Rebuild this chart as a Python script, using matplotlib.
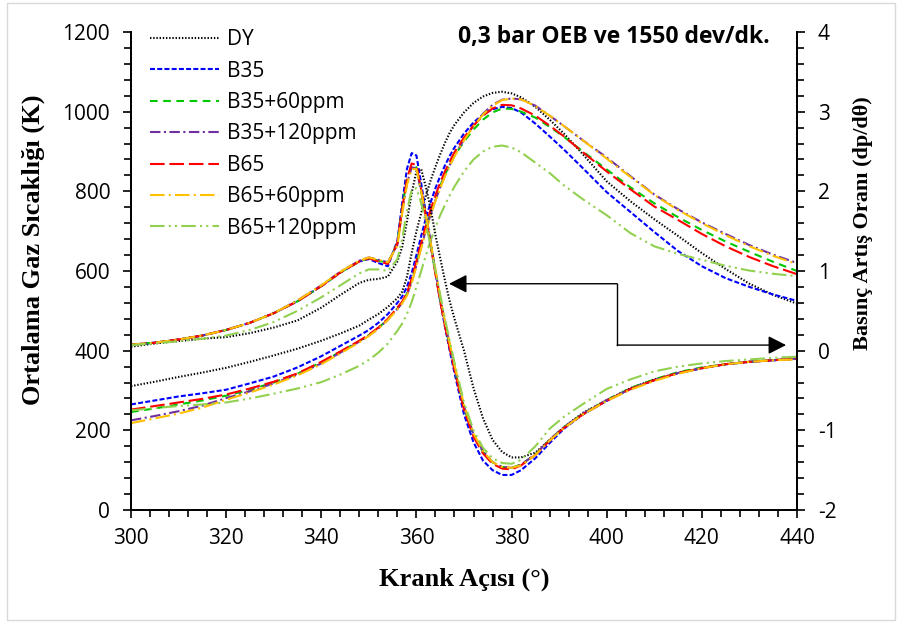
import matplotlib
matplotlib.use("Agg")
import matplotlib.pyplot as plt
from matplotlib.patches import Rectangle
from matplotlib.ticker import MultipleLocator

plt.rcParams["axes.unicode_minus"] = False
plt.rcParams["lines.scale_dashes"] = False

# Crank angle grid (degrees)
angle = [300, 305, 310, 315, 320, 325, 330, 335, 340, 344, 348, 350, 352, 354,
         356, 357, 358, 359, 360, 361, 362, 363, 364, 365, 366, 367, 368, 370,
         372, 374, 376, 378, 380, 382, 385, 388, 391, 395, 400, 405, 410, 415,
         420, 425, 430, 435, 440]

fuels = ["DY", "B35", "B35+60ppm", "B35+120ppm", "B65", "B65+60ppm", "B65+120ppm"]

# Mean gas temperature (K)
temp_dy = [311, 322, 334, 345, 357, 372, 388, 405, 425, 443, 463, 478, 492, 510,
           532, 548, 585, 645, 700, 745, 790, 828, 862, 893, 922, 947, 967, 998,
           1022, 1038, 1047, 1050, 1046, 1036, 1012, 980, 945, 893, 825, 775, 730,
           688, 645, 605, 568, 540, 518]
temp_b35 = [265, 275, 285, 293, 302, 318, 335, 358, 386, 412, 438, 452, 470, 492,
            520, 536, 560, 595, 640, 688, 733, 773, 808, 838, 865, 889, 910, 945,
            973, 993, 1006, 1012, 1009, 998, 970, 938, 905, 858, 798, 748, 698,
            650, 612, 582, 560, 541, 525]
temp_b35_60 = [246, 255, 265, 275, 287, 302, 320, 342, 371, 397, 424, 439, 457, 479,
               506, 521, 543, 577, 620, 665, 708, 748, 782, 814, 842, 867, 889, 925,
               955, 980, 998, 1008, 1007, 1000, 985, 962, 937, 900, 855, 810, 770,
               735, 703, 674, 648, 623, 600]
temp_b35_120 = [225, 236, 248, 262, 281, 298, 318, 340, 368, 395, 423, 438, 456, 478,
                505, 520, 540, 572, 615, 660, 703, 743, 778, 810, 840, 866, 890, 930,
                965, 995, 1017, 1030, 1033, 1031, 1015, 990, 964, 928, 885, 838, 792,
                755, 722, 693, 665, 641, 620]
temp_b65 = [252, 261, 270, 279, 290, 305, 322, 343, 372, 398, 425, 440, 458, 480,
            508, 523, 545, 580, 625, 670, 715, 755, 790, 822, 850, 875, 898, 935,
            965, 990, 1008, 1017, 1016, 1008, 990, 965, 938, 898, 850, 805, 762,
            728, 693, 662, 635, 612, 592]
temp_b65_60 = [218, 230, 242, 257, 277, 295, 315, 338, 366, 393, 421, 437, 455, 477,
               504, 519, 538, 570, 612, 657, 700, 740, 776, 808, 838, 864, 888, 928,
               963, 993, 1015, 1029, 1033, 1031, 1014, 990, 964, 928, 882, 836, 791,
               753, 720, 690, 662, 638, 617]
temp_b65_120 = [250, 256, 261, 265, 270, 280, 292, 305, 321, 340, 362, 377, 395, 418,
                450, 468, 492, 522, 560, 600, 640, 677, 710, 740, 766, 790, 812, 850,
                880, 900, 912, 915, 910, 898, 872, 846, 815, 780, 740, 695, 662,
                643, 628, 613, 601, 593, 587]

# Pressure rise rate (dp/dθ)
dp_dy = [0.05, 0.09, 0.12, 0.15, 0.17, 0.22, 0.29, 0.38, 0.54, 0.70, 0.85, 0.89, 0.90,
         0.93, 1.12, 1.30, 1.62, 1.98, 2.25, 2.28, 2.05, 1.78, 1.45, 1.16, 0.88, 0.62,
         0.40, 0.00, -0.47, -0.85, -1.12, -1.27, -1.34, -1.34, -1.28, -1.12, -0.96,
         -0.78, -0.62, -0.47, -0.36, -0.28, -0.22, -0.17, -0.14, -0.12, -0.10]
dp_b35 = [0.075, 0.10, 0.14, 0.19, 0.26, 0.35, 0.47, 0.62, 0.81, 0.98, 1.12, 1.15, 1.10,
          1.06, 1.38, 1.85, 2.28, 2.48, 2.45, 2.10, 1.72, 1.35, 0.98, 0.62, 0.30, 0.00,
          -0.28, -0.80, -1.15, -1.38, -1.50, -1.56, -1.56, -1.50, -1.35, -1.16, -0.98,
          -0.80, -0.63, -0.48, -0.37, -0.28, -0.22, -0.17, -0.14, -0.12, -0.10]
dp_b35_60 = [0.075, 0.10, 0.14, 0.19, 0.26, 0.35, 0.47, 0.62, 0.81, 0.98, 1.12, 1.16, 1.13,
             1.10, 1.35, 1.80, 2.15, 2.33, 2.30, 2.00, 1.68, 1.33, 0.98, 0.64, 0.33, 0.05,
             -0.22, -0.72, -1.06, -1.27, -1.40, -1.46, -1.47, -1.43, -1.30, -1.12, -0.96,
             -0.79, -0.62, -0.47, -0.36, -0.27, -0.21, -0.17, -0.14, -0.12, -0.10]
dp_b35_120 = [0.075, 0.10, 0.14, 0.19, 0.26, 0.35, 0.47, 0.63, 0.82, 0.99, 1.13, 1.17, 1.14,
              1.11, 1.33, 1.75, 2.10, 2.30, 2.29, 2.00, 1.68, 1.34, 1.00, 0.66, 0.35, 0.07,
              -0.20, -0.70, -1.05, -1.26, -1.40, -1.46, -1.47, -1.43, -1.30, -1.12, -0.96,
              -0.79, -0.62, -0.48, -0.37, -0.28, -0.22, -0.17, -0.14, -0.12, -0.10]
dp_b65 = [0.075, 0.10, 0.14, 0.19, 0.26, 0.35, 0.47, 0.62, 0.81, 0.98, 1.12, 1.16, 1.12,
          1.09, 1.35, 1.78, 2.15, 2.35, 2.33, 2.02, 1.68, 1.32, 0.96, 0.62, 0.31, 0.03,
          -0.24, -0.74, -1.08, -1.29, -1.42, -1.48, -1.49, -1.44, -1.31, -1.13, -0.97,
          -0.80, -0.63, -0.48, -0.37, -0.28, -0.22, -0.17, -0.14, -0.12, -0.10]
dp_b65_60 = [0.075, 0.10, 0.14, 0.19, 0.26, 0.35, 0.47, 0.63, 0.82, 0.99, 1.13, 1.17, 1.14,
             1.11, 1.32, 1.72, 2.08, 2.28, 2.28, 2.00, 1.69, 1.36, 1.02, 0.68, 0.37, 0.09,
             -0.18, -0.68, -1.04, -1.26, -1.40, -1.46, -1.47, -1.44, -1.31, -1.13, -0.97,
             -0.80, -0.63, -0.49, -0.38, -0.29, -0.22, -0.17, -0.14, -0.12, -0.11]
dp_b65_120 = [0.07, 0.09, 0.12, 0.15, 0.19, 0.26, 0.36, 0.50, 0.67, 0.82, 0.97, 1.02, 1.02,
              1.00, 1.15, 1.40, 1.75, 2.02, 2.04, 1.85, 1.60, 1.30, 1.00, 0.70, 0.40, 0.12,
              -0.15, -0.65, -1.00, -1.22, -1.35, -1.41, -1.42, -1.37, -1.20, -0.98, -0.83,
              -0.67, -0.48, -0.36, -0.26, -0.20, -0.16, -0.13, -0.11, -0.09, -0.075]

temps = [temp_dy, temp_b35, temp_b35_60, temp_b35_120, temp_b65, temp_b65_60, temp_b65_120]
rates = [dp_dy, dp_b35, dp_b35_60, dp_b35_120, dp_b65, dp_b65_60, dp_b65_120]

colors = ["black", "#0000ff", "#00c800", "#7030a0", "#ff0000", "#ffc000", "#92d050"]
dashes = [
    (0, (1.0, 1.3)),
    (0, (3.6, 1.6)),
    (0, (5.5, 4.0)),
    (0, (7.5, 2.5, 1.5, 2.5)),
    (0, (10.5, 3.5)),
    (0, (10.5, 3.0, 1.5, 3.0)),
    (0, (10.5, 3.0, 1.5, 3.0, 1.5, 3.0)),
]

SANS = "Open Sans"
SERIF = "Liberation Serif"


def main():
    fig = plt.figure(figsize=(9.03, 6.26), dpi=100)
    fig.patches.append(Rectangle((7 / 903, 6 / 626), 888 / 903, 617 / 626,
                                 transform=fig.transFigure, fill=False,
                                 edgecolor="#d9d9d9", linewidth=1.0))

    ax = fig.add_axes([131 / 903, 116 / 626, 666 / 903, 478 / 626])
    ax2 = ax.twinx()

    for i in range(len(fuels)):
        ax.plot(angle, temps[i], color=colors[i], linestyle=dashes[i], lw=1.5,
                label=fuels[i])
        ax2.plot(angle, rates[i], color=colors[i], linestyle=dashes[i], lw=1.5)

    ax.set_xlim(300, 440)
    ax.set_ylim(0, 1200)
    ax2.set_ylim(-2, 4)
    ax.xaxis.set_major_locator(MultipleLocator(20))
    ax.xaxis.set_minor_locator(MultipleLocator(4))
    ax.yaxis.set_major_locator(MultipleLocator(200))
    ax.yaxis.set_minor_locator(MultipleLocator(40))
    ax2.yaxis.set_major_locator(MultipleLocator(1))
    ax2.yaxis.set_minor_locator(MultipleLocator(0.2))

    for a in (ax, ax2):
        a.spines["top"].set_visible(False)
        for s in a.spines.values():
            s.set_linewidth(1.3)
        a.tick_params(which="both", direction="out", width=1.2, colors="black")
        a.tick_params(which="major", length=6)
        a.tick_params(which="minor", length=5)
    ax.tick_params(axis="y", pad=9)
    ax.tick_params(axis="x", pad=7)
    ax2.tick_params(axis="y", pad=9)

    for lab in ax.get_xticklabels() + ax.get_yticklabels() + ax2.get_yticklabels():
        lab.set_fontfamily(SANS)
        lab.set_fontsize(15)

    ax.set_xlabel("Krank Açısı (°)", fontfamily=SERIF, fontweight="bold", fontsize=19)
    ax.set_ylabel("Ortalama Gaz Sıcaklığı (K)", fontfamily=SERIF, fontweight="bold",
                  fontsize=19)
    ax2.set_ylabel("Basınç Artış Oranı (dp/dθ)", fontfamily=SERIF, fontweight="bold",
                   fontsize=16, rotation=90)
    ax.xaxis.set_label_coords(0.5, -0.121)
    ax.yaxis.set_label_coords(-0.129, 0.544)
    ax2.yaxis.set_label_coords(1.084, 0.60)

    ax.text(0.959, 0.99, "0,3 bar OEB ve 1550 dev/dk.", transform=ax.transAxes,
            ha="right", va="center", fontfamily=SANS, fontweight="bold", fontsize=16.5)

    # arrows linking the falling dp/dθ curves to the right-hand axis
    arrow = dict(arrowstyle="-|>,head_length=0.55,head_width=0.28", color="black",
                 lw=1.0, mutation_scale=20, shrinkA=0, shrinkB=0)
    ax.plot([402.2, 402.2], [568, 414], color="black", lw=1.0)
    ax.annotate("", xy=(366.85, 568), xytext=(402.2, 568), arrowprops=arrow)
    ax.annotate("", xy=(437.7, 414), xytext=(402.2, 414), arrowprops=arrow)

    ax.legend(loc="upper left", bbox_to_anchor=(19 / 666, 1.006), frameon=False,
              prop={"family": SANS, "size": 15}, handlelength=3.3,
              handletextpad=0.4, labelspacing=0.5, borderaxespad=0, borderpad=0)

    fig.savefig("out.png", dpi=100)


if __name__ == "__main__":
    main()
